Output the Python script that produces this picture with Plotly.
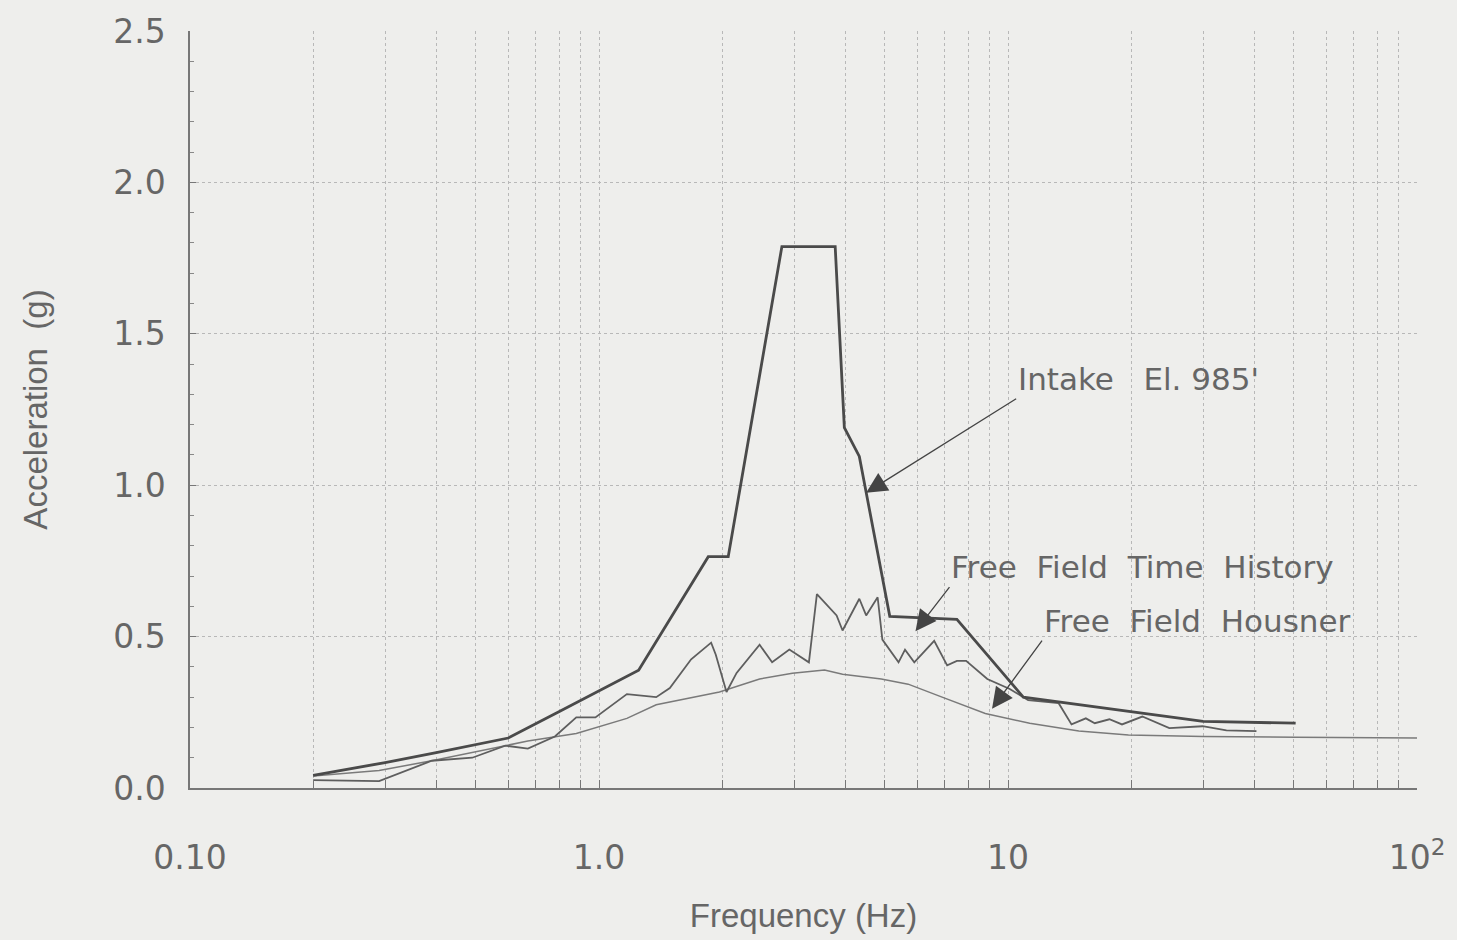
import math
import plotly.graph_objects as go

# ---------------- data ----------------
intake_f = [0.2, 0.3, 0.4, 0.6, 0.8, 1.25, 1.85, 2.07, 2.8, 3.78, 3.98, 4.33, 5.14, 7.5, 10.9, 30.0, 50.5]
intake_a = [0.042, 0.084, 0.117, 0.165, 0.253, 0.389, 0.764, 0.764, 1.788, 1.788, 1.19, 1.095, 0.567, 0.557, 0.30, 0.22, 0.214]

th_f = [0.2, 0.29, 0.39, 0.49, 0.59, 0.67, 0.78, 0.88, 0.98, 1.17, 1.38, 1.49, 1.68, 1.88, 1.93,
        2.05, 2.17, 2.47, 2.65, 2.92, 3.26, 3.41, 3.81, 3.94, 4.33, 4.5, 4.8, 4.93, 5.4, 5.6, 5.9,
        6.6, 7.1, 7.5, 7.9, 8.9, 10.1, 11.2, 13.3, 14.3, 15.5, 16.3, 17.7, 19.0, 21.3, 24.8, 29.9,
        34.2, 40.5]
th_a = [0.026, 0.023, 0.09, 0.10, 0.14, 0.13, 0.17, 0.233, 0.233, 0.31, 0.30, 0.33, 0.425, 0.48, 0.44,
        0.317, 0.38, 0.473, 0.415, 0.457, 0.415, 0.64, 0.57, 0.52, 0.625, 0.57, 0.63, 0.49, 0.415, 0.457, 0.415,
        0.486, 0.405, 0.42, 0.42, 0.36, 0.327, 0.29, 0.28, 0.21, 0.23, 0.214, 0.227, 0.21, 0.236, 0.198, 0.204,
        0.19, 0.188]

housner_f = [0.2, 0.29, 0.39, 0.59, 0.67, 0.88, 1.17, 1.38, 1.97, 2.47, 2.97, 3.56, 3.94, 4.9, 5.7,
             6.9, 8.8, 11.3, 14.9, 19.7, 30.0, 50.5, 100.0]
housner_a = [0.04, 0.058, 0.09, 0.14, 0.155, 0.18, 0.23, 0.275, 0.317, 0.36, 0.379, 0.39, 0.376, 0.36, 0.343,
             0.30, 0.246, 0.214, 0.188, 0.175, 0.17, 0.168, 0.165]

# tick labels
x_tickvals = [m * d for d in (0.1, 1, 10) for m in range(1, 10)] + [100]
x_ticktext = ["0.10" if v == 0.1 else "1.0" if v == 1 else "10" if v == 10 else "" for v in x_tickvals[:-1]] + ["10<sup>2</sup>"]
y_tickvals = [0.0, 0.5, 1.0, 1.5, 2.0, 2.5]
y_ticktext = ["0.0", "0.5", "1.0", "1.5", "2.0", "2.5"]

# labels and where their arrows point (frequency, acceleration)
label_intake = "Intake   El. 985'"
label_th = "Free  Field  Time  History"
label_housner = "Free  Field  Housner"
arrow_tip_f = [4.5, 5.94, 9.14]
arrow_tip_a = [0.975, 0.518, 0.262]

BG = "#eeeeec"
INK = "#4a4a4a"
TXT = "#666666"
GRID = "#b8b8b8"

fig = go.Figure()
fig.add_trace(go.Scatter(x=housner_f, y=housner_a, mode="lines",
                         line=dict(color="#7a7a7a", width=1.5), name="Free Field Housner"))
fig.add_trace(go.Scatter(x=th_f, y=th_a, mode="lines",
                         line=dict(color="#5e5e5e", width=1.8), name="Free Field Time History"))
fig.add_trace(go.Scatter(x=intake_f, y=intake_a, mode="lines",
                         line=dict(color=INK, width=2.8), name="Intake El. 985'"))

tickfont = dict(family="DejaVu Sans", size=33, color=TXT)
fig.update_layout(
    width=1457, height=940,
    margin=dict(l=190, r=39, t=26, b=142),
    paper_bgcolor=BG, plot_bgcolor=BG,
    showlegend=False,
    xaxis=dict(type="log", range=[-1, 2],
               tickmode="array", tickvals=x_tickvals, ticktext=x_ticktext,
               ticks="inside", ticklen=8, tickcolor="#777", tickwidth=1,
               showgrid=True, gridcolor=GRID, griddash="dot", gridwidth=1,
               showline=True, linecolor="#777", linewidth=1.5,
               zeroline=False, tickfont=tickfont, ticklabelstandoff=40,
               title=dict(text="Frequency (Hz)", standoff=28,
                          font=dict(family="Liberation Sans", size=33, color=TXT))),
    yaxis=dict(range=[0, 2.5],
               tickmode="array", tickvals=y_tickvals, ticktext=y_ticktext,
               ticks="inside", ticklen=6, tickcolor="#777",
               minor=dict(dtick=0.1, ticks="inside", ticklen=4, tickcolor="#888", showgrid=False),
               showgrid=True, gridcolor=GRID, griddash="dot", gridwidth=1,
               showline=True, linecolor="#777", linewidth=1.5,
               zeroline=False, tickfont=tickfont, ticklabelstandoff=16,
               title=dict(text="Acceleration  (g)", standoff=56,
                          font=dict(family="Liberation Sans", size=33, color=TXT))),
)

annfont = dict(family="DejaVu Sans", size=31, color=TXT)
for label, tf, ta, ax, ay in zip([label_intake, label_th, label_housner],
                                 arrow_tip_f, arrow_tip_a,
                                 [150, 34, 50], [-94, -44, -68]):
    fig.add_annotation(x=math.log10(tf), y=ta, xref="x", yref="y", text=label,
                       showarrow=True, arrowhead=2, arrowsize=3.2, arrowwidth=1.3,
                       arrowcolor="#444", ax=ax, ay=ay, standoff=0,
                       xanchor="left", yanchor="bottom", font=annfont)

fig.write_html("out.html")
